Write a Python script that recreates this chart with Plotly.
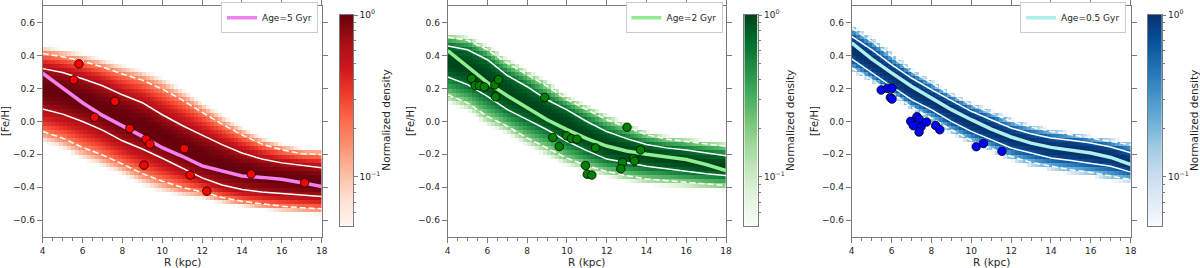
import numpy as np
import plotly.graph_objects as go

# ---------------- data ----------------
R_GRID = [4, 5, 6, 7, 8, 9, 10, 11, 12, 13, 14, 15, 16, 17, 18]

# Panel 1: Age = 5 Gyr
MED_5 = [0.292, 0.205, 0.113, 0.036, -0.027, -0.091, -0.160, -0.212, -0.270, -0.300, -0.332, -0.340, -0.352, -0.372, -0.395]
UP1_5 = [0.320, 0.297, 0.259, 0.216, 0.161, 0.113, 0.040, -0.025, -0.084, -0.141, -0.192, -0.229, -0.252, -0.268, -0.281]
LO1_5 = [0.075, 0.044, -0.001, -0.053, -0.118, -0.168, -0.224, -0.285, -0.343, -0.386, -0.414, -0.428, -0.438, -0.448, -0.456]
UP2_5 = [0.412, 0.392, 0.365, 0.330, 0.287, 0.250, 0.196, 0.130, 0.055, -0.017, -0.082, -0.138, -0.173, -0.196, -0.202]
LO2_5 = [-0.062, -0.102, -0.158, -0.204, -0.259, -0.317, -0.363, -0.401, -0.428, -0.462, -0.485, -0.502, -0.515, -0.524, -0.531]
PTS_R_5 = [5.82, 5.56, 6.60, 7.62, 8.37, 9.19, 9.38, 9.08, 11.11, 11.40, 12.23, 14.46, 17.14]
PTS_F_5 = [0.349, 0.252, 0.025, 0.122, -0.044, -0.108, -0.138, -0.266, -0.165, -0.326, -0.424, -0.320, -0.373]

# Panel 2: Age = 2 Gyr
MED_2 = [0.430, 0.330, 0.235, 0.155, 0.080, 0.010, -0.050, -0.105, -0.150, -0.180, -0.200, -0.215, -0.232, -0.262, -0.298]
UP1_2 = [0.457, 0.434, 0.374, 0.278, 0.210, 0.131, 0.070, -0.001, -0.062, -0.105, -0.140, -0.161, -0.174, -0.193, -0.209]
LO1_2 = [0.269, 0.223, 0.152, 0.071, 0.010, -0.051, -0.121, -0.178, -0.229, -0.253, -0.273, -0.287, -0.304, -0.318, -0.328]
UP2_2 = [0.512, 0.492, 0.435, 0.354, 0.283, 0.213, 0.132, 0.071, 0.010, -0.034, -0.081, -0.107, -0.121, -0.138, -0.152]
LO2_2 = [0.162, 0.111, 0.030, -0.030, -0.101, -0.162, -0.223, -0.269, -0.304, -0.330, -0.350, -0.360, -0.370, -0.381, -0.389]
PTS_R_2 = [5.20, 5.38, 5.59, 5.84, 6.37, 6.56, 6.41, 8.88, 9.29, 9.61, 9.98, 10.22, 10.50, 11.44, 10.93, 11.02, 11.25, 13.02, 13.70, 13.34, 13.40, 12.79, 12.71]
PTS_F_2 = [0.260, 0.217, 0.216, 0.209, 0.222, 0.253, 0.149, 0.145, -0.098, -0.153, -0.088, -0.105, -0.108, -0.161, -0.268, -0.321, -0.326, -0.036, -0.174, -0.226, -0.241, -0.249, -0.288]

# Panel 3: Age = 0.5 Gyr
MED_05 = [0.476, 0.379, 0.294, 0.213, 0.142, 0.071, 0.010, -0.047, -0.095, -0.132, -0.158, -0.176, -0.192, -0.219, -0.262]
UP1_05 = [0.516, 0.435, 0.344, 0.263, 0.192, 0.126, 0.061, 0.010, -0.040, -0.075, -0.101, -0.115, -0.132, -0.156, -0.190]
LO1_05 = [0.379, 0.294, 0.213, 0.132, 0.071, 0.000, -0.061, -0.111, -0.162, -0.192, -0.223, -0.237, -0.257, -0.273, -0.308]
UP2_05 = [0.567, 0.486, 0.395, 0.304, 0.233, 0.162, 0.101, 0.051, 0.000, -0.034, -0.061, -0.081, -0.101, -0.121, -0.142]
LO2_05 = [0.324, 0.253, 0.172, 0.087, 0.020, -0.051, -0.115, -0.162, -0.213, -0.249, -0.273, -0.294, -0.310, -0.334, -0.354]
PTS_R_05 = [5.48, 5.80, 6.02, 5.94, 6.02, 6.96, 7.27, 7.39, 7.09, 7.48, 7.76, 7.38, 8.21, 8.42, 10.25, 10.61, 11.54]
PTS_F_05 = [0.190, 0.200, 0.201, 0.145, 0.135, 0.000, 0.028, 0.012, -0.026, -0.033, -0.004, -0.065, -0.025, -0.051, -0.154, -0.134, -0.182]

LABELS = ["Age=5 Gyr", "Age=2 Gyr", "Age=0.5 Gyr"]
X_TICKS = [4, 6, 8, 10, 12, 14, 16, 18]
Y_TICKS = [-0.6, -0.4, -0.2, 0.0, 0.2, 0.4, 0.6]
CB_MIN, CB_MAX = 0.05, 1.0

# ---------------- styles ----------------
REDS = ["#fff5f0", "#fee0d2", "#fcbba1", "#fc9272", "#fb6a4a", "#ef3b2c", "#cb181d", "#a50f15", "#67000d"]
GREENS = ["#f7fcf5", "#e5f5e0", "#c7e9c0", "#a1d99b", "#74c476", "#41ab5d", "#238b45", "#006d2c", "#00441b"]
BLUES = ["#f7fbff", "#deebf7", "#c6dbef", "#9ecae1", "#6baed6", "#4292c6", "#2171b5", "#08519c", "#08306b"]
MED_COLORS = ["violet", "lightgreen", "paleturquoise"]
PT_COLORS = ["#ff0000", "#008000", "#0000ff"]

FONT = "DejaVu Sans"
TXT = "#262626"
AX = "#7a7a7a"
W, H = 1200, 268

PANEL_X = [(42.7, 321.7), (447.7, 726.0), (851.7, 1130.7)]
PLOT_Y = (6.0, 236.7)
CB_X = [(340.0, 353.3), (744.3, 757.7), (1148.0, 1161.7)]
CB_Y = (15.0, 225.7)
LEG_RIGHT = [318.0, 722.5, 1126.0]


def px_x(p):
    return p / W


def px_y(p):
    return 1 - p / H


def cscale(cols):
    n = len(cols) - 1
    return [[i / n, c] for i, c in enumerate(cols)]


# density grid (cells 0.2 kpc x 0.025 dex), shaped from the read band lines
R_CELLS = np.arange(4.1, 18.0, 0.2)
F_CELLS = np.arange(-0.6875, 0.7, 0.025)
CORE, TAIL, EDGE = 1.08, 0.6, 2.0


def density(up1, lo1, up2, lo2):
    u1 = np.interp(R_CELLS, R_GRID, up1)
    l1 = np.interp(R_CELLS, R_GRID, lo1)
    u2 = np.interp(R_CELLS, R_GRID, up2)
    l2 = np.interp(R_CELLS, R_GRID, lo2)
    c = (u1 + l1) / 2
    Z = np.full((len(F_CELLS), len(R_CELLS)), np.nan)
    for j in range(len(R_CELLS)):
        for i, f in enumerate(F_CELLS):
            if f >= c[j]:
                if f <= u1[j]:
                    t = (f - c[j]) / (u1[j] - c[j])
                else:
                    t = 1 + (f - u1[j]) / (u2[j] - u1[j])
            else:
                if f >= l1[j]:
                    t = (c[j] - f) / (c[j] - l1[j])
                else:
                    t = 1 + (l1[j] - f) / (l1[j] - l2[j])
            v = np.exp(-0.5 * (t / CORE) ** 2)
            if t > EDGE:
                v *= np.exp(-((t - EDGE) / TAIL) ** 2)
            if v >= CB_MIN * 0.85:
                Z[i, j] = np.log10(max(v, CB_MIN))
    return Z


panels = [
    (MED_5, UP1_5, LO1_5, UP2_5, LO2_5, PTS_R_5, PTS_F_5, REDS),
    (MED_2, UP1_2, LO1_2, UP2_2, LO2_2, PTS_R_2, PTS_F_2, GREENS),
    (MED_05, UP1_05, LO1_05, UP2_05, LO2_05, PTS_R_05, PTS_F_05, BLUES),
]

fig = go.Figure()
zmin, zmax = np.log10(CB_MIN), np.log10(CB_MAX)
layout = {}
annotations = []
title_font = dict(family=FONT, size=10.5, color=TXT)

for k, (med, up1, lo1, up2, lo2, pr, pf, cols) in enumerate(panels):
    n = k + 1
    xa, ya = f"x{n}" if n > 1 else "x", f"y{n}" if n > 1 else "y"
    leg = "legend" if n == 1 else f"legend{n}"
    Z = density(up1, lo1, up2, lo2)
    fig.add_trace(go.Heatmap(x=R_CELLS, y=F_CELLS, z=Z, colorscale=cscale(cols), zmin=zmin, zmax=zmax,
                             showscale=False, hoverinfo="skip", xaxis=xa, yaxis=ya))
    for arr, dash in [(up2, "6px,3px"), (lo2, "6px,3px"), (up1, "solid"), (lo1, "solid")]:
        fig.add_trace(go.Scatter(x=R_GRID, y=arr, mode="lines", line=dict(color="white", width=1.5, dash=dash),
                                 showlegend=False, hoverinfo="skip", xaxis=xa, yaxis=ya))
    fig.add_trace(go.Scatter(x=R_GRID, y=med, mode="lines", line=dict(color=MED_COLORS[k], width=3.5),
                             name=LABELS[k], legend=leg, xaxis=xa, yaxis=ya))
    fig.add_trace(go.Scatter(x=pr, y=pf, mode="markers",
                             marker=dict(color=PT_COLORS[k], size=8.5, line=dict(color="black", width=0.8)),
                             showlegend=False, xaxis=xa, yaxis=ya))

    # colour bar drawn as its own small axis
    cb = n + 3
    cbv = np.linspace(zmin, zmax, 300)
    fig.add_trace(go.Heatmap(x=[0.5], y=cbv, z=[[v] for v in cbv], colorscale=cscale(cols), zmin=zmin, zmax=zmax,
                             showscale=False, hoverinfo="skip", xaxis=f"x{cb}", yaxis=f"y{cb}"))
    # invisible anchor for the top tick axis
    top = n + 6
    fig.add_trace(go.Scatter(x=[4], y=[0], mode="markers", marker=dict(opacity=0), showlegend=False,
                             hoverinfo="skip", xaxis=f"x{top}", yaxis=ya))

    xd = [px_x(PANEL_X[k][0]), px_x(PANEL_X[k][1])]
    yd = [px_y(PLOT_Y[1]), px_y(PLOT_Y[0])]
    tickfont = dict(family=FONT, size=9, color=TXT)
    layout[f"xaxis{n}"] = dict(domain=xd, anchor=ya, range=[4, 18], tickvals=X_TICKS, ticks="outside", ticklen=5,
                               tickwidth=1, tickcolor=AX, showline=True, linecolor=AX, linewidth=1, mirror=True,
                               showgrid=False, zeroline=False, tickfont=tickfont, automargin=False,
                               minor=dict(dtick=0.5, tick0=4, ticks="outside", ticklen=3, tickcolor=AX, showgrid=False))
    layout[f"yaxis{n}"] = dict(domain=yd, anchor=xa, range=[-0.7, 0.7], tickvals=Y_TICKS,
                               ticktext=[f"{v:.1f}".replace("-", "\u2212") for v in Y_TICKS],
                               ticks="outside", ticklen=5, tickwidth=1, tickcolor=AX, showline=True, linecolor=AX,
                               linewidth=1, mirror="ticks", showgrid=False, zeroline=False, tickfont=tickfont,
                               automargin=False)
    layout[f"xaxis{top}"] = dict(overlaying=xa, anchor=ya, side="top", range=[4, 18], tickvals=X_TICKS,
                                 ticks="outside", ticklen=6, tickcolor=AX, showticklabels=False, showline=False,
                                 showgrid=False, zeroline=False, automargin=False)
    cxd = [px_x(CB_X[k][0]), px_x(CB_X[k][1])]
    cyd = [px_y(CB_Y[1]), px_y(CB_Y[0])]
    minor_vals = [np.log10(v) for v in [0.06, 0.07, 0.08, 0.09, 0.2, 0.3, 0.4, 0.5, 0.6, 0.7, 0.8, 0.9]]
    layout[f"xaxis{cb}"] = dict(domain=cxd, anchor=f"y{cb}", range=[0, 1], showticklabels=False, ticks="",
                                showline=True, linecolor=AX, mirror=True, showgrid=False, zeroline=False,
                                automargin=False)
    layout[f"yaxis{cb}"] = dict(domain=cyd, anchor=f"x{cb}", side="right", range=[zmin, zmax], tickvals=[-1, 0],
                                ticktext=["10<sup>\u22121</sup>", "10<sup>0</sup>"], ticks="outside", ticklen=3.5,
                                tickcolor=AX, showline=True, linecolor=AX, mirror=True, showgrid=False,
                                zeroline=False, tickfont=tickfont, automargin=False,
                                minor=dict(tickvals=minor_vals, ticks="outside", ticklen=2, tickcolor=AX,
                                           showgrid=False))
    layout[leg] = dict(x=px_x(LEG_RIGHT[k]), y=px_y(17.7), xanchor="right", yanchor="middle", xref="paper",
                       yref="paper", bgcolor="white", bordercolor="#cccccc", borderwidth=1,
                       font=dict(family=FONT, size=9, color=TXT), itemwidth=30, tracegroupgap=0)
    annotations.append(dict(x=px_x(CB_X[k][1] + 33), y=px_y((CB_Y[0] + CB_Y[1]) / 2), xref="paper", yref="paper",
                            text="Normalized density", textangle=-90, showarrow=False, xanchor="center",
                            yanchor="middle", font=title_font))
    annotations.append(dict(x=px_x(PANEL_X[k][0] - 37), y=px_y((PLOT_Y[0] + PLOT_Y[1]) / 2), xref="paper",
                            yref="paper", text="[Fe/H]", textangle=-90, showarrow=False, xanchor="center",
                            yanchor="middle", font=dict(family=FONT, size=10, color=TXT)))
    annotations.append(dict(x=px_x((PANEL_X[k][0] + PANEL_X[k][1]) / 2), y=px_y(262), xref="paper", yref="paper",
                            text="R (kpc)", showarrow=False, xanchor="center", yanchor="middle", font=title_font))

layout["xaxis"] = layout.pop("xaxis1")
layout["yaxis"] = layout.pop("yaxis1")

fig.update_layout(width=W, height=H, margin=dict(l=0, r=0, t=0, b=0, pad=0, autoexpand=False),
                  paper_bgcolor="white", plot_bgcolor="white", font=dict(family=FONT, size=9, color=TXT),
                  annotations=annotations, **layout)
fig.write_html("out.html", config={"displayModeBar": False},
               post_script="document.body.style.margin='0';document.body.style.padding='0';")
